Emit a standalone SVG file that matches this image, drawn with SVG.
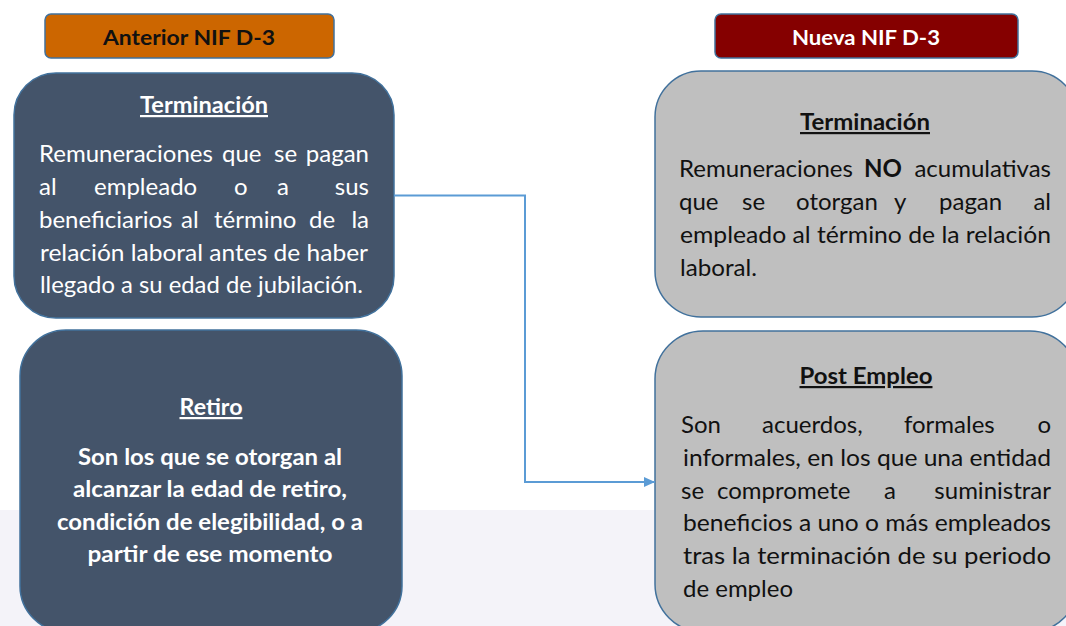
<svg xmlns="http://www.w3.org/2000/svg" width="1066" height="626" viewBox="0 0 1066 626">
<style>
text{font-family:Lato,"Liberation Sans",sans-serif}
.hdr{stroke:#41719c;stroke-width:1.5}
.node{stroke:#41719c;stroke-width:1.5}
.dark{fill:#44546a}
.gray{fill:#bfbfbf}
.w{fill:#ffffff;font-size:24px}
.k{fill:#111111;font-size:24px}
.e{text-anchor:end}
.tw{fill:#ffffff;font-size:22px;font-weight:bold;text-decoration:underline}
.tk{fill:#111111;font-size:22px;font-weight:bold;text-decoration:underline}
.bw{fill:#ffffff;font-size:22px;font-weight:bold}
.conn{fill:none;stroke:#5b9bd5;stroke-width:2}
</style>
<defs>
<marker id="arr" markerUnits="userSpaceOnUse" markerWidth="12" markerHeight="10" refX="11" refY="5" orient="auto">
<path d="M0,0 L11,5 L0,10 z" fill="#5b9bd5"/>
</marker>
</defs>
<rect x="0" y="0" width="1066" height="626" fill="#ffffff"/>
<rect x="0" y="510" width="1066" height="116" fill="#f4f3f9"/>

<g id="hdr-anterior">
<rect class="hdr" x="45" y="14" width="289" height="44" rx="6" fill="#cc6600"/>
<text x="189" y="45" text-anchor="middle" font-size="20" font-weight="bold" fill="#111111" textLength="172" lengthAdjust="spacingAndGlyphs">Anterior NIF D-3</text>
</g>

<g id="hdr-nueva">
<rect class="hdr" x="715" y="14" width="303" height="44" rx="6" fill="#850000"/>
<text x="866" y="45" text-anchor="middle" font-size="20" font-weight="bold" fill="#ffffff" textLength="148" lengthAdjust="spacingAndGlyphs">Nueva NIF D-3</text>
</g>

<g id="node-term-anterior">
<rect class="node dark" x="14" y="73" width="380" height="245" rx="42"/>
<text class="tw" x="204" y="113" text-anchor="middle" textLength="128" lengthAdjust="spacingAndGlyphs">Terminación</text>
<text class="w" y="162"><tspan x="39">Remuneraciones</tspan><tspan x="222">que</tspan><tspan x="274">se</tspan></text>
<text class="w e" x="369" y="162">pagan</text>
<text class="w" y="195"><tspan x="39">al</tspan><tspan x="94">empleado</tspan><tspan x="234">o</tspan><tspan x="277">a</tspan></text>
<text class="w e" x="369" y="195">sus</text>
<text class="w" y="228"><tspan x="39">beneficiarios</tspan><tspan x="181">al</tspan><tspan x="214">término</tspan><tspan x="309">de</tspan></text>
<text class="w e" x="369" y="228">la</text>
<text class="w" x="40" y="261" textLength="328" lengthAdjust="spacingAndGlyphs">relación laboral antes de haber</text>
<text class="w" x="40" y="293" textLength="323" lengthAdjust="spacingAndGlyphs">llegado a su edad de jubilación.</text>
</g>

<g id="node-retiro">
<rect class="node dark" x="20" y="330" width="382" height="302" rx="46"/>
<text class="tw" x="211" y="415" text-anchor="middle" textLength="63" lengthAdjust="spacingAndGlyphs">Retiro</text>
<text class="bw" x="210" y="465" text-anchor="middle" textLength="264" lengthAdjust="spacingAndGlyphs">Son los que se otorgan al</text>
<text class="bw" x="210" y="497" text-anchor="middle" textLength="274" lengthAdjust="spacingAndGlyphs">alcanzar la edad de retiro,</text>
<text class="bw" x="210" y="530" text-anchor="middle" textLength="306" lengthAdjust="spacingAndGlyphs">condición de elegibilidad, o a</text>
<text class="bw" x="210" y="562" text-anchor="middle" textLength="245" lengthAdjust="spacingAndGlyphs">partir de ese momento</text>
</g>

<g id="node-term-nueva">
<rect class="node gray" x="655" y="71" width="423" height="246" rx="46"/>
<text class="tk" x="865" y="130" text-anchor="middle" textLength="130" lengthAdjust="spacingAndGlyphs">Terminación</text>
<text class="k" y="177"><tspan x="679">Remuneraciones</tspan><tspan x="864" font-weight="bold">NO</tspan></text>
<text class="k e" x="1051" y="177">acumulativas</text>
<text class="k" y="210"><tspan x="679">que</tspan><tspan x="742">se</tspan><tspan x="796">otorgan</tspan><tspan x="894">y</tspan><tspan x="939">pagan</tspan></text>
<text class="k e" x="1051" y="210">al</text>
<text class="k" x="680" y="243" textLength="371" lengthAdjust="spacingAndGlyphs">empleado al término de la relación</text>
<text class="k" x="680" y="276" textLength="77" lengthAdjust="spacingAndGlyphs">laboral.</text>
</g>

<g id="node-post-empleo">
<rect class="node gray" x="655" y="331" width="423" height="301" rx="48"/>
<text class="tk" x="866" y="384" text-anchor="middle" textLength="133" lengthAdjust="spacingAndGlyphs">Post Empleo</text>
<text class="k" y="433"><tspan x="681">Son</tspan><tspan x="762">acuerdos,</tspan><tspan x="904">formales</tspan></text>
<text class="k e" x="1051" y="433">o</text>
<text class="k" x="683" y="466" textLength="368" lengthAdjust="spacingAndGlyphs">informales, en los que una entidad</text>
<text class="k" y="499"><tspan x="681">se</tspan><tspan x="717">compromete</tspan><tspan x="884">a</tspan></text>
<text class="k e" x="1051" y="499">suministrar</text>
<text class="k" x="683" y="531" textLength="368" lengthAdjust="spacingAndGlyphs">beneficios a uno o más empleados</text>
<text class="k" x="683" y="564" textLength="368" lengthAdjust="spacingAndGlyphs">tras la terminación de su periodo</text>
<text class="k" x="683" y="597" textLength="110" lengthAdjust="spacingAndGlyphs">de empleo</text>
</g>

<g id="connectors">
<path class="conn" d="M394,195.5 H525 V482 H655" marker-end="url(#arr)"/>
</g>
</svg>
